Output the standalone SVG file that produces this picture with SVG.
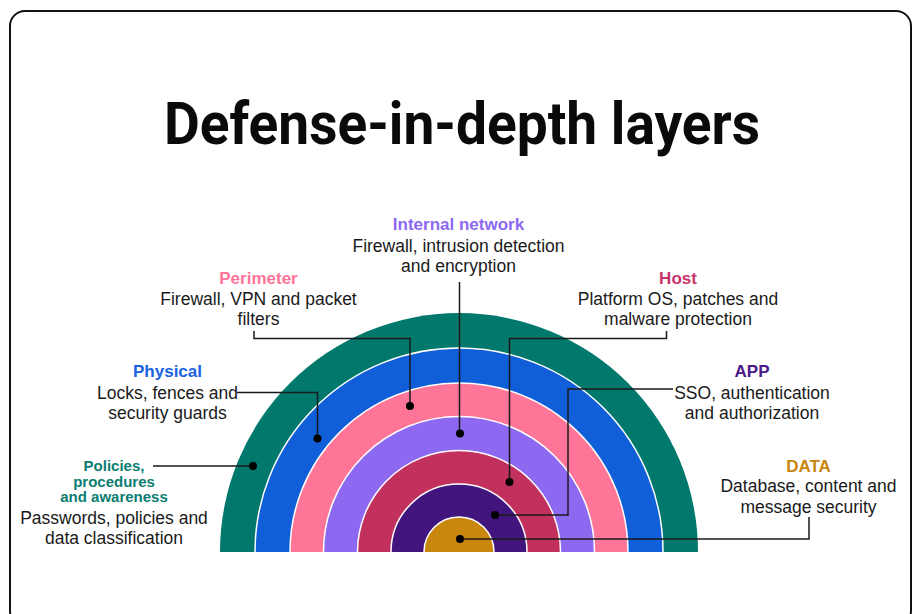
<svg xmlns="http://www.w3.org/2000/svg" width="917" height="614" viewBox="0 0 917 614">
  <style>
    .title { font-family: Roboto, "Liberation Sans", sans-serif; font-weight: 700; font-size: 60px; fill: #0a0a0a; text-anchor: middle; }
    .head { font-family: "Liberation Sans", Arial, sans-serif; font-weight: 700; font-size: 17px; text-anchor: middle; }
    .head.small { font-size: 15px; }
    .body { font-family: "Liberation Sans", Arial, sans-serif; font-size: 17.5px; fill: #1a1a1a; text-anchor: middle; }
    .sep { fill: none; stroke: #ffffff; stroke-width: 1.5; }
    .wire { fill: none; stroke: #1a1a1a; stroke-width: 1.5; }
    .dot { fill: #000000; }
  </style>

  <!-- card frame -->
  <rect x="10" y="11" width="901" height="615" rx="15" ry="15" fill="#ffffff" stroke="#111111" stroke-width="2"/>

  <text class="title" x="462" y="144" textLength="596" lengthAdjust="spacingAndGlyphs">Defense-in-depth layers</text>

  <!-- concentric half rings, centre (459,552) -->
  <g id="rings">
    <path d="M220 552 A239 239 0 0 1 698 552 Z" fill="#00786C"/>
    <path d="M255 552 A204 204 0 0 1 663 552 Z" fill="#105ED8"/>
    <path d="M290 552 A169 169 0 0 1 628 552 Z" fill="#FF7598"/>
    <path d="M323.5 552 A135.5 135.5 0 0 1 594.5 552 Z" fill="#8C69F0"/>
    <path d="M357.5 552 A101.5 101.5 0 0 1 560.5 552 Z" fill="#C2315E"/>
    <path d="M391 552 A68 68 0 0 1 527 552 Z" fill="#42147E"/>
    <path d="M424 552 A35 35 0 0 1 494 552 Z" fill="#C8860C"/>
    <path class="sep" d="M255 552 A204 204 0 0 1 663 552"/>
    <path class="sep" d="M290 552 A169 169 0 0 1 628 552"/>
    <path class="sep" d="M323.5 552 A135.5 135.5 0 0 1 594.5 552"/>
    <path class="sep" d="M357.5 552 A101.5 101.5 0 0 1 560.5 552"/>
    <path class="sep" d="M391 552 A68 68 0 0 1 527 552"/>
    <path class="sep" d="M424 552 A35 35 0 0 1 494 552"/>
  </g>

  <!-- leader lines from labels to rings -->
  <g id="connectors">
    <polyline class="wire" points="153,466 253,466"/>
    <polyline class="wire" points="237,392.5 317.5,392.5 317.5,438"/>
    <polyline class="wire" points="254,331 254,338.5 410,338.5 410,406"/>
    <polyline class="wire" points="459.5,282 459.5,433"/>
    <polyline class="wire" points="666.5,331 666.5,338.5 509.5,338.5 509.5,482"/>
    <polyline class="wire" points="495,515 568,515 568,389 673,389"/>
    <polyline class="wire" points="460,539 809,539 809,517"/>
    <circle class="dot" cx="253" cy="466" r="4"/>
    <circle class="dot" cx="317.5" cy="438.5" r="4"/>
    <circle class="dot" cx="410" cy="406" r="4"/>
    <circle class="dot" cx="460" cy="433.5" r="4"/>
    <circle class="dot" cx="509.5" cy="482" r="4"/>
    <circle class="dot" cx="495" cy="515" r="4"/>
    <circle class="dot" cx="460" cy="539" r="4"/>
  </g>

  <g id="policies">
    <text class="head small" fill="#0B7D72" x="114" y="471">Policies,</text>
    <text class="head small" fill="#0B7D72" x="114" y="486.5">procedures</text>
    <text class="head small" fill="#0B7D72" x="114" y="502">and awareness</text>
    <text class="body" x="114" y="523.5">Passwords, policies and</text>
    <text class="body" x="114" y="544">data classification</text>
  </g>

  <g id="physical">
    <text class="head" fill="#1A63E0" x="167.5" y="377">Physical</text>
    <text class="body" x="167.5" y="398.5">Locks, fences and</text>
    <text class="body" x="167.5" y="418.5">security guards</text>
  </g>

  <g id="perimeter">
    <text class="head" fill="#FF7598" x="258.5" y="284">Perimeter</text>
    <text class="body" x="258.5" y="305">Firewall, VPN and packet</text>
    <text class="body" x="258.5" y="325">filters</text>
  </g>

  <g id="internal-network">
    <text class="head" fill="#8C69F0" x="458.5" y="230">Internal network</text>
    <text class="body" x="458.5" y="251.5">Firewall, intrusion detection</text>
    <text class="body" x="458.5" y="271.5">and encryption</text>
  </g>

  <g id="host">
    <text class="head" fill="#C8336A" x="678" y="284">Host</text>
    <text class="body" x="678" y="305">Platform OS, patches and</text>
    <text class="body" x="678" y="325">malware protection</text>
  </g>

  <g id="app">
    <text class="head" fill="#4A1A8A" x="752" y="377">APP</text>
    <text class="body" x="752" y="398.5">SSO, authentication</text>
    <text class="body" x="752" y="418.5">and authorization</text>
  </g>

  <g id="data">
    <text class="head" fill="#C8860C" x="808.5" y="472">DATA</text>
    <text class="body" x="808.5" y="492">Database, content and</text>
    <text class="body" x="808.5" y="513">message security</text>
  </g>
</svg>
